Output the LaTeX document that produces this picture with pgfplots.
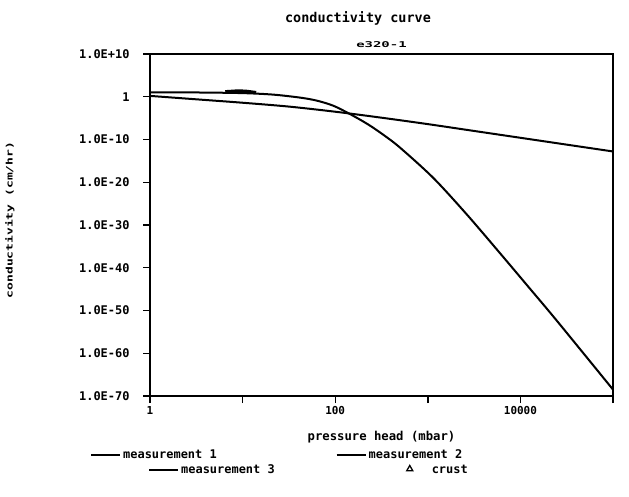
\documentclass[border=0pt]{standalone}
\usepackage{pgfplots}
\pgfplotsset{compat=1.18}
\usepackage{fontspec}
\setmainfont{DejaVu Sans Mono}

% model curve 1: gently falling conductivity
\pgfplotstableread{
x        K
1        1.585
3.162    0.2512
10       3.981e-2
31.62    5.012e-3
100      3.162e-4
316.2    1.259e-5
1000     3.981e-7
3162     1.0e-8
10000    2.512e-10
31623    6.31e-12
100000   1.585e-13
}\curveA

% model curve 2: steep decline at high suction
\pgfplotstableread{
x        K
1        10
3.162    10
10       7.08
21.38    3.16
41.69    0.631
63.10    0.126
95.50    7.94e-3
144.5    8.91e-5
223.9    3.98e-7
331.1    1.26e-9
501.2    1.26e-12
1148     1.0e-19
2630     3.16e-28
6026     2.51e-37
12023    5.01e-45
24547    5.01e-53
100000   3.16e-69
}\curveB

\begin{document}
\begin{tikzpicture}
\useasboundingbox (-150bp,-101bp) rectangle (479bp,396bp);
\begin{axis}[
  at={(0bp,0bp)}, anchor=south west,
  scale only axis, width=463bp, height=342bp,
  xmode=log, ymode=log,
  xmin=1, xmax=100000, ymin=1e-70, ymax=1e10,
  xtick={1,10,100,1000,10000,100000},
  xticklabels={1,,100,,10000,},
  ytick={1e-70,1e-60,1e-50,1e-40,1e-30,1e-20,1e-10,1,1e10},
  yticklabels={1.0E-70,1.0E-60,1.0E-50,1.0E-40,1.0E-30,1.0E-20,1.0E-10,1,1.0E+10},
  minor tick length=0pt,
  tick align=outside, xtick pos=bottom, ytick pos=left,
  major tick length=7bp,
  axis line style={line width=1.6bp},
  every tick/.style={line width=1.4bp, black},
  xticklabel style={font=\bfseries\fontsize{11}{12}\selectfont},
  yticklabel style={font=\bfseries\fontsize{12}{13}\selectfont, xshift=-10bp},
  title={\scalebox{1.75}[1]{\bfseries\fontsize{8}{9}\selectfont e320-1}},
  title style={at={(0.5,1)}, anchor=south, yshift=-3bp},
  xlabel={\bfseries\fontsize{12.3}{13}\selectfont pressure head (mbar)},
  xlabel style={at={(axis description cs:0.5,0)}, anchor=center, yshift=-41bp},
  ylabel={\scalebox{1.45}[1]{\bfseries\fontsize{9}{10}\selectfont conductivity (cm/hr)}},
  % the label is turned by 90 degrees, so its own x runs upwards and y runs left
  ylabel style={at={(axis description cs:0,0.5)}, anchor=center, yshift=140bp, xshift=5bp},
  legend style={draw=none, fill=none, inner sep=0pt,
    at={(-0.1296,-0.1725)}, anchor=west,
    font=\bfseries\fontsize{12}{13}\selectfont,
    /tikz/every even column/.append style={column sep=117bp}},
  legend columns=2, legend cell align=left,
  legend image code/.code={\draw[#1] (0bp,0bp) -- (29bp,0bp);},
]
\addplot[black, line width=2bp, smooth, tension=0.5, forget plot] table[x=x, y=K] {\curveA};
\addplot[black, line width=2bp, smooth, tension=0.5, forget plot] table[x=x, y=K] {\curveB};
% measured points near saturation
\addplot[black, line width=3bp, forget plot] coordinates {(6.5,15.8) (9,25) (11,20) (14,10)};
\addlegendimage{black, line width=2bp}
\addlegendentry{measurement 1}
\addlegendimage{black, line width=2bp}
\addlegendentry{measurement 2}
\end{axis}
% second legend row
\begin{axis}[
  at={(0bp,0bp)}, anchor=south west,
  scale only axis, width=463bp, height=342bp,
  hide axis, xmin=0, xmax=1, ymin=0, ymax=1,
  legend style={draw=none, fill=none, inner sep=0pt,
    at={(-0.0043,-0.2164)}, anchor=west,
    font=\bfseries\fontsize{12}{13}\selectfont,
    /tikz/every even column/.append style={column sep=121bp}},
  legend columns=2, legend cell align=left,
  legend image code/.code={\draw[#1] (0bp,0bp) -- (29bp,0bp);},
]
\addlegendimage{black, line width=2bp}
\addlegendentry{measurement 3}
\addlegendimage{legend image code/.code={\path[draw=none] (0bp,0bp) -- (32bp,0bp);
    \draw[black, line width=1.3bp] plot[mark=triangle, mark size=3.5bp] coordinates {(12bp,1bp)};}}
\addlegendentry{crust}
\end{axis}
\node[font=\bfseries\fontsize{13.5}{15}\selectfont] at (208bp,378bp) {conductivity curve};
\end{tikzpicture}
\end{document}
